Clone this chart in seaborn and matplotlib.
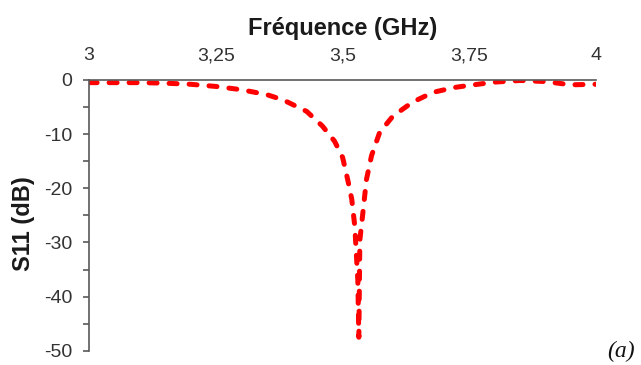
import pandas as pd
import matplotlib.pyplot as plt
import matplotlib.ticker as mticker
import seaborn as sns

# values
freq = [3.00, 3.05, 3.10, 3.15, 3.20, 3.25, 3.30, 3.35, 3.383, 3.429, 3.46, 3.484,
        3.50, 3.51, 3.518, 3.524, 3.527, 3.53, 3.532,
        3.534, 3.54, 3.547, 3.557, 3.573, 3.599, 3.638, 3.678, 3.72, 3.75,
        3.80, 3.85, 3.90, 3.95, 4.00]
s11 = [-0.5, -0.5, -0.5, -0.6, -0.8, -1.2, -1.8, -2.7, -3.7, -5.8, -8.5, -11.3,
       -14.3, -18.4, -22.0, -27.0, -32.0, -37.0, -47.5,
       -29.6, -24.5, -18.4, -14.0, -9.7, -6.7, -4.1, -2.3, -1.4, -1.0,
       -0.4, -0.1, -0.3, -0.9, -0.8]
xticks = [3, 3.25, 3.5, 3.75, 4]
xtick_labels = ["3", "3,25", "3,5", "3,75", "4"]
yticks = [0, -10, -20, -30, -40, -50]

df = pd.DataFrame({"freq": freq, "s11": s11})

sns.set_style("ticks")
plt.rcParams["font.family"] = ["Liberation Sans", "DejaVu Sans"]

fig = plt.figure(figsize=(6.41, 3.65), dpi=100)
ax = fig.add_axes([0.139, 0.039, 0.791, 0.742])

sns.lineplot(data=df, x="freq", y="s11", ax=ax, color="#ff0000", linewidth=3.6,
             sort=False, estimator=None)
ax.lines[0].set_dashes([1.6, 2.4])
ax.lines[0].set_dash_capstyle("round")

ax.set_xlim(3, 4)
ax.set_ylim(-50, 0)
ax.xaxis.tick_top()
ax.xaxis.set_label_position("top")
ax.set_xticks(xticks)
ax.set_xticklabels(xtick_labels)
ax.xaxis.set_minor_locator(mticker.MultipleLocator(0.125))
ax.set_yticks(yticks)
ax.set_yticklabels([str(v) for v in yticks])
ax.yaxis.set_minor_locator(mticker.MultipleLocator(5))

text_color = "#333333"
ax.set_xlabel("Fréquence (GHz)", fontsize=17, fontweight="bold", labelpad=9,
              color="#1a1a1a")
ax.set_ylabel("S11 (dB)", fontsize=17, fontweight="bold", color="#1a1a1a")
ax.yaxis.set_label_coords(-0.106, 0.468)

axis_color = "#595959"
sns.despine(ax=ax, top=False, bottom=True, right=True, left=False)
for side in ["top", "left"]:
    ax.spines[side].set_color(axis_color)
    ax.spines[side].set_linewidth(1.2)
ax.tick_params(axis="x", which="both", direction="out", colors=axis_color,
               labelcolor=text_color, labelsize=14, pad=7)
ax.tick_params(axis="x", which="major", length=4.3, width=1.2)
ax.tick_params(axis="x", which="minor", length=4.3, width=1.2)
ax.tick_params(axis="y", which="both", direction="out", colors=axis_color,
               labelcolor=text_color, labelsize=14, pad=8)
ax.tick_params(axis="y", which="major", length=4, width=1.2)
ax.tick_params(axis="y", which="minor", length=4, width=1.2)

fig.text(0.947, 0.008, "(a)", fontsize=17, style="italic", color="#111111",
         family=["Liberation Serif", "DejaVu Serif"], ha="left", va="bottom")

fig.savefig("out.png", dpi=100)
plt.close(fig)
